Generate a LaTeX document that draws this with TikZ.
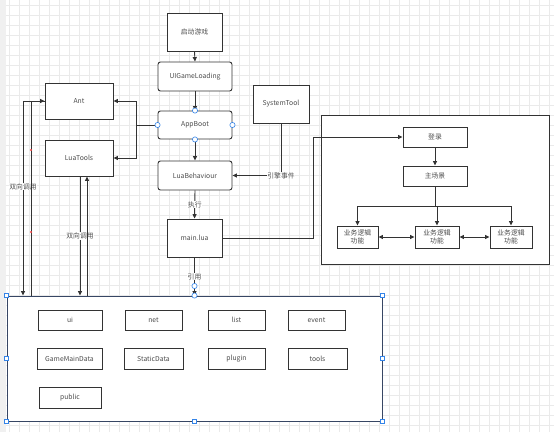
\documentclass[tikz,border=0pt]{standalone}
\usepackage{fontspec}
\setmainfont{Noto Sans CJK SC}
\usetikzlibrary{positioning,arrows.meta}
\tikzset{every picture/.style={line width=0.9pt}}
\definecolor{lineclr}{RGB}{51,51,51}
\definecolor{gridclr}{RGB}{234,234,234}
\definecolor{handleclr}{RGB}{52,132,232}

\begin{document}
\begin{tikzpicture}[x=1pt,y=-1pt,
  box/.style={draw=lineclr, fill=white, text=black!70, inner sep=0pt,
    font=\fontsize{6.8}{7.8}\selectfont, align=center},
  rbox/.style={box, rounded corners=2.5pt},
  lbl/.style={fill=white, text=black!70, inner sep=0.6pt,
    font=\fontsize{6.8}{7.8}\selectfont},
  arr/.style={draw=lineclr, -{Triangle[length=4.5pt,width=4pt]}},
  darr/.style={draw=lineclr, {Triangle[length=4.5pt,width=4pt]}-{Triangle[length=4.5pt,width=4pt]}},
  handle/.style={draw=handleclr, fill=white, line width=0.6pt}]
\useasboundingbox (0,0) rectangle (554,432);
%
% background grid
\fill[white] (0,0) rectangle (554,432);
\foreach \x in {9,19,...,549}
\draw[gridclr, line width=0.4pt] (\x,0) -- (\x,432);
\foreach \y in {5,15,...,425}
\draw[gridclr, line width=0.4pt] (0,\y) -- (554,\y);
\fill[black!6] (0,0) rectangle (6,432);
%
% boot chain
\node[box, minimum width=55, minimum height=38] (start) at (194.5,32) {启动游戏};
\node[rbox, minimum width=74, minimum height=29] (load) at (195,76.5) {UIGameLoading};
\node[rbox, minimum width=74, minimum height=28] (boot) at (195,125) {AppBoot};
\node[rbox, minimum width=74, minimum height=29] (behav) at (195,175.5) {LuaBehaviour};
\node[box, minimum width=55, minimum height=38] (main) at (194.5,238) {main.lua};
%
\node[box, minimum width=68, minimum height=36] (ant) at (79,101) {Ant};
\node[box, minimum width=68, minimum height=36] (tools) at (79,158) {LuaTools};
\node[box, minimum width=56, minimum height=38] (sys) at (281,104) {SystemTool};
%
% game flow
\node[box, minimum width=228, minimum height=149] (flow) at (435.5,189.5) {};
\node[box, minimum width=64, minimum height=20] (login) at (435,137) {登录};
\node[box, minimum width=64, minimum height=20] (scene) at (435,176) {主场景};
\node[box, minimum width=41, minimum height=22] (biz1) at (357.5,237) {业务逻辑\\功能};
\node[box, minimum width=44, minimum height=22] (biz2) at (437,237) {业务逻辑\\功能};
\node[box, minimum width=42, minimum height=22] (biz3) at (511,237) {业务逻辑\\功能};
%
% lua libs
\node[box, draw={rgb,255:red,55;green,70;blue,100}, minimum width=375, minimum height=125] (lib) at (194.5,358.5) {};
\node[box, minimum width=64, minimum height=20] (ui) at (70,320) {ui};
\node[box, minimum width=57, minimum height=20] (net) at (153.5,320) {net};
\node[box, minimum width=57, minimum height=20] (list) at (236.5,320) {list};
\node[box, minimum width=57, minimum height=20] (event) at (316.5,320) {event};
\node[box, minimum width=65, minimum height=21] (gmd) at (69.5,358.5) {GameMainData};
\node[box, minimum width=59, minimum height=21] (sdata) at (153.5,358.5) {StaticData};
\node[box, minimum width=57, minimum height=21] (plugin) at (236.5,358.5) {plugin};
\node[box, minimum width=59, minimum height=21] (ltools) at (317.5,358.5) {tools};
\node[box, minimum width=62, minimum height=21] (public) at (70,397.5) {public};
%
\foreach \Source/\Target in {%
	start.south/load.north,
	load.south/boot.north,
	boot.south/behav.north,
	login.south/scene.north%
    }
\draw[arr] (\Source) -- (\Target);
%
\draw[arr] (behav.south) -- node[lbl]{执行} (main.north);
\draw[arr] (main.south) -- node[lbl]{引用} (lib.north);
%
\coordinate (split) at (136,125);
\draw[lineclr] (boot.west) -- (split);
\draw[arr] (split) |- (ant.east);
\draw[arr] (split) |- (tools.east);
%
\draw[arr] (sys.south) |- node[lbl]{引擎事件} (behav.east);
\draw[arr] (main.east) -- (313,238) |- (login.west);
%
\coordinate (fork) at (435,206);
\foreach \Target in {biz1,biz2,biz3}
\draw[arr] (scene.south) -- (fork) -| (\Target.north);
\draw[darr] (biz1) -- (biz2);
\draw[darr] (biz2) -- (biz3);
%
% two way calls
\draw[arr] (ant.west) -| node[lbl, pos=0.72]{双向调用} (23,0 |- lib.north);
\draw[arr] (31,0 |- lib.north) |- (ant.west);
\draw[arr] (80,0 |- tools.south) -- node[lbl]{双向调用} (80,0 |- lib.north);
\draw[arr] (87,0 |- lib.north) -- (87,0 |- tools.south);
\fill[red!70] (31,150) circle (1.1pt) (31,232) circle (1.1pt);
%
% selection handles
\foreach \Anchor in {north,south,east,west}
\draw[handle] (boot.\Anchor) circle (2.6pt);
\foreach \Anchor in {north west,north east,south west,south east,west,east,south}
\draw[handle] (lib.\Anchor) ++(-2.2,-2.2) rectangle ++(4.4,4.4);
\draw[handle] (lib.north) circle (2.6pt);
\draw[handle] (194.5,286) circle (2.6pt);
\end{tikzpicture}
\end{document}
